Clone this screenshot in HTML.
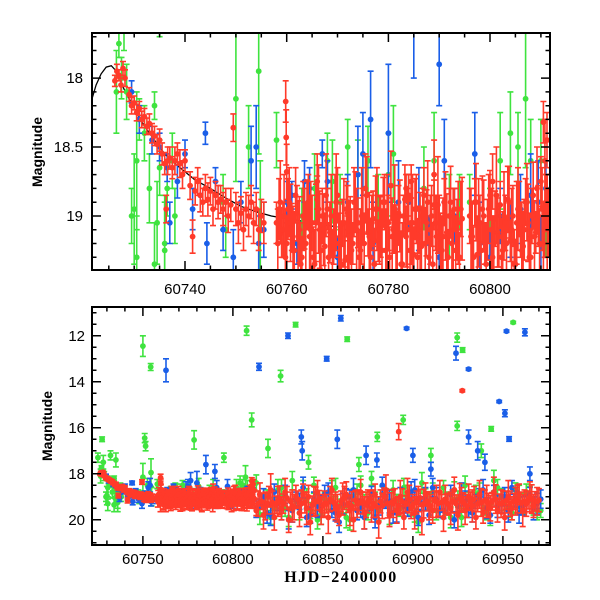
<!DOCTYPE html>
<html><head><meta charset="utf-8"><style>
html,body{margin:0;padding:0;background:#fff;}
svg{display:block;}
text{font-family:"Liberation Sans",Arial,sans-serif;fill:#000;}
</style></head><body>
<svg id="chart" width="600" height="600" viewBox="0 0 600 600" xmlns="http://www.w3.org/2000/svg">
<defs>
<clipPath id="clipTop"><rect x="92" y="33" width="458" height="237"/></clipPath>
<clipPath id="clipBot"><rect x="92" y="307" width="458" height="238"/></clipPath>
</defs>
<g id="top"></g>
<g id="bot"></g>
<text x="42" y="152" transform="rotate(-90 42 152)" text-anchor="middle" font-size="14" font-weight="bold">Magnitude</text>
<text x="52" y="426" transform="rotate(-90 52 426)" text-anchor="middle" font-size="14" font-weight="bold">Magnitude</text>
<text x="341" y="582" text-anchor="middle" font-size="16" font-weight="bold" style="font-family:'Liberation Serif',serif;letter-spacing:1.5px">HJD−2400000</text>
</svg>
<script>
// times are HJD-2460700
const curveT=[21.7,22.5,23.5,24.5,25.5,26.5,28,30,32,34,36,38,40,42,45,48,51,54,57,60,65,70];
const curveM=[18.15,18.05,17.97,17.92,17.91,17.95,18.08,18.22,18.35,18.45,18.55,18.62,18.68,18.74,18.8,18.87,18.93,18.97,19.0,19.02,19.05,19.08];

const redT=[26.2,26.6,27,27.4,27.8,28.2,29,29.5,30,30.5,31,31.5,32,32.5,33,33.5,34,34.5,35,35.5,36,36.3,36.6,37,37.5,38,38.5,39,39.5,40,
41,41.5,42,42.5,43,43.5,44,44.5,45,45.5,46,46.5,47,47.5,48,48.5,49,49.5,50,50.5,51,51.5,52,52.5,53,53.5,54,54.5,55,55.5,59.8,59.9,60.0,
58,58.5,59,59.5,60,60.5,61,61.5,62,62.5,63,63.5,64,64.5,65,65.5,66,66.5,67,67.5,68,68.5,69,69.5,70,70.5,71,71.5,72,72.5,73,73.5,74,74.5,75,75.5,76,76.5,77,77.5,78,78.5,79,79.5,80,80.5,81,81.5,82,82.5,83,83.5,84,84.5,85,85.5,86,86.5,87,87.5,88,88.5,89,89.5,90,90.5,91,91.5,92,92.5,93,93.5,94,94.5,
96,96.5,97,97.5,98,98.5,99,99.5,100,100.5,101,101.5,102,102.5,103,103.5,104,104.5,105,105.5,106,106.5,107,107.5,108,108.5,109,109.5,110,110.5,111,111.5,
66,83.5,84,84.5,72,110.5,110.8,111.2,89,100.5,
112,114,116,118,120,122,124,126,128,130,132,134,136,138,140,142,144,146,148,150,152,154,156,158,160,162,164,166,168,170,172,174,176,178,180,182,184,186,188,190,192,194,196,198,200,202,204,206,208,210,212,214,216,218,220,222,224,226,228,230,232,234,236,238,240,242,244,246,248,250,252,254,256,258,260,262,264,266,268,270,
227.4,192.1];
const redMag=[18.02,17.95,17.98,18.05,17.93,18.0,18.12,18.2,18.18,18.25,18.22,18.3,18.28,18.35,18.33,18.4,18.42,18.48,18.45,18.55,18.62,18.95,18.6,18.58,18.65,18.6,18.55,18.62,18.7,18.6,
18.78,19.15,18.82,18.75,18.85,18.9,18.8,18.88,18.82,18.95,18.85,18.9,18.88,18.95,18.9,19.0,18.92,18.36,18.95,19.05,18.98,19.1,18.95,19.0,18.9,19.05,18.95,19.1,19.0,19.05,18.17,18.43,18.68,
19.05,18.95,19.12,19.0,19.2,18.9,19.08,19.25,18.98,19.1,19.3,19.02,18.92,19.15,19.05,19.35,18.88,19.1,19.0,19.22,18.95,19.12,19.28,19.0,18.85,19.15,19.05,19.32,18.98,19.1,19.2,18.9,19.05,19.25,19.0,18.8,19.12,19.3,19.02,18.95,19.18,19.08,18.9,19.25,19.05,18.78,19.1,19.2,18.98,19.35,19.0,19.15,18.88,19.05,19.28,18.95,19.1,19.22,18.85,19.05,19.3,19.0,18.92,19.15,19.05,19.25,18.9,19.12,19.0,19.2,18.95,19.1,19.3,19.02,
19.0,19.15,18.9,19.28,19.05,18.95,19.2,19.1,18.85,19.3,19.02,19.12,18.92,19.25,19.05,18.88,19.18,19.0,19.35,18.95,19.1,19.22,18.9,19.05,19.3,18.85,19.12,19.0,18.75,19.2,18.9,19.05,
18.75,18.8,18.85,18.75,19.3,18.32,18.6,18.45,18.7,18.75,
19.1,19.3,19.2,19.4,19.0,19.25,19.35,19.15,19.3,19.05,19.2,19.45,19.1,19.3,19.25,19.0,19.35,19.2,19.15,19.4,19.3,19.1,19.25,19.5,19.2,19.05,19.3,19.4,19.15,19.25,19.2,19.35,19.1,19.3,19.45,19.2,19.0,19.3,19.25,19.15,19.4,19.2,19.3,19.1,19.35,19.25,19.05,19.3,19.2,19.4,19.15,19.3,19.25,19.1,19.35,19.2,19.3,19.05,19.25,19.4,19.2,19.1,19.3,19.25,19.15,19.35,19.2,19.1,19.3,19.25,19.15,19.3,19.2,19.1,19.25,19.2,19.15,19.1,19.2,19.15,
14.39,16.17];
const redErr=[.04,.05,.04,.05,.05,.06,.05,.06,.05,.06,.05,.06,.06,.06,.07,.07,.07,.07,.08,.08,.08,.1,.1,.08,.08,.1,.08,.1,.1,.08,
.1,.12,.1,.1,.12,.1,.1,.12,.1,.12,.1,.12,.1,.12,.1,.12,.12,.1,.12,.15,.12,.15,.12,.15,.12,.15,.12,.15,.12,.15,.15,.2,.2,
.15,.22,.18,.3,.2,.25,.17,.28,.2,.24,.15,.22,.18,.3,.2,.25,.17,.28,.2,.24,.15,.22,.18,.3,.2,.25,.17,.28,.2,.24,.15,.22,.18,.3,.2,.25,.17,.28,.2,.24,.15,.22,.18,.3,.2,.25,.17,.28,.2,.24,.15,.22,.18,.3,.2,.25,.17,.28,.2,.24,.15,.22,.18,.3,.2,.25,.17,.28,.2,.24,.15,.22,.18,.3,
.2,.25,.17,.28,.2,.24,.15,.22,.18,.3,.2,.25,.17,.28,.2,.24,.15,.22,.18,.3,.2,.25,.17,.28,.2,.24,.15,.22,.18,.3,.2,.25,
.2,.1,.15,.12,.3,.15,.3,.2,.25,.2,
.4,.55,.35,.6,.45,.5,.38,.62,.42,.5,.4,.55,.35,.6,.45,.5,.38,.62,.42,.5,.4,.55,.35,.6,.45,.5,.38,.62,.42,.5,.4,.55,.35,.6,.45,.5,.38,.62,.42,.5,.4,.55,.35,.6,.45,.5,.38,.62,.42,.5,.4,.55,.35,.6,.45,.5,.38,.62,.42,.5,.4,.55,.35,.6,.45,.5,.38,.62,.42,.5,.4,.55,.35,.6,.45,.5,.38,.62,.42,.5,
.05,.35];

const redT2=[58.25,58.75,59.25,59.75,60.25,60.75,61.25,61.75,62.25,62.75,63.25,63.75,64.25,64.75,65.25,65.75,66.25,66.75,67.25,67.75,68.25,68.75,69.25,69.75,70.25,70.75,71.25,71.75,72.25,72.75,73.25,73.75,74.25,74.75,75.25,75.75,76.25,76.75,77.25,77.75,78.25,78.75,79.25,79.75,80.25,80.75,81.25,81.75,82.25,82.75,83.25,83.75,84.25,84.75,85.25,85.75,86.25,86.75,87.25,87.75,88.25,88.75,89.25,89.75,90.25,90.75,91.25,91.75,92.25,92.75,93.25,93.75,94.25,
96.25,96.75,97.25,97.75,98.25,98.75,99.25,99.75,100.25,100.75,101.25,101.75,102.25,102.75,103.25,103.75,104.25,104.75,105.25,105.75,106.25,106.75,107.25,107.75,108.25,108.75,109.25,109.75,110.25,110.75,111.25,
113,115,117,119,121,123,125,127,129,131,133,135,137,139,141,143,145,147,149,151,153,155,157,159,161,163,165,167,169,171,173,175,177,179,181,183,185,187,189,191,193,195,197,199,201,203,205,207,209,211,213,215,217,219,221,223,225,227,229,231,233,235,237,239,241,243,245,247,249,251,253,255,257,259,261,263,265,267,269];
const redMag2=[19.2,18.9,19.1,19.3,18.95,19.05,19.25,18.85,19.15,19.35,19.0,19.2,18.9,19.1,19.3,19.05,18.95,19.25,19.1,18.85,19.3,19.0,19.15,18.9,19.2,19.35,19.05,18.95,19.15,19.25,18.9,19.1,19.3,19.0,19.2,18.85,19.15,19.05,19.35,18.95,19.1,19.25,18.9,19.05,19.3,19.15,18.95,19.2,19.0,19.35,18.88,19.1,19.25,19.05,18.95,19.3,19.15,19.0,19.2,18.9,19.1,19.35,19.05,18.92,19.2,19.15,19.0,19.3,18.9,19.1,19.25,19.05,18.95,
19.15,19.3,18.9,19.05,19.25,19.0,19.35,18.95,19.1,19.2,18.85,19.15,19.3,19.0,19.2,18.9,19.1,19.35,19.05,18.95,19.25,19.1,18.9,19.3,19.0,19.15,18.8,19.2,18.95,19.1,19.05,
19.6,18.9,19.8,19.3,18.7,19.9,19.2,19.5,18.8,20.0,19.4,19.0,19.7,18.9,19.5,20.1,19.2,18.8,19.6,19.3,19.9,18.7,19.4,19.8,19.1,18.9,19.6,20.0,19.3,18.8,19.7,19.2,19.5,18.9,20.1,19.4,18.7,19.8,19.3,19.6,19.0,19.9,18.8,19.5,19.7,19.1,20.0,18.9,19.4,19.6,19.2,18.8,19.9,19.3,19.5,18.7,19.8,19.1,19.6,19.0,19.4,19.9,18.9,19.7,19.2,19.5,18.8,19.6,19.3,19.9,19.0,19.5,19.2,18.9,19.6,19.3,19.0,19.4,19.2];
const redErr2=[.25,.3,.2,.35,.22,.28,.32,.2,.26,.3,.25,.3,.2,.35,.22,.28,.32,.2,.26,.3,.25,.3,.2,.35,.22,.28,.32,.2,.26,.3,.25,.3,.2,.35,.22,.28,.32,.2,.26,.3,.25,.3,.2,.35,.22,.28,.32,.2,.26,.3,.25,.3,.2,.35,.22,.28,.32,.2,.26,.3,.25,.3,.2,.35,.22,.28,.32,.2,.26,.3,.25,.3,.2,
.35,.22,.28,.32,.2,.26,.3,.25,.3,.2,.35,.22,.28,.32,.2,.26,.3,.25,.3,.2,.35,.22,.28,.32,.2,.26,.3,.25,.3,.2,.35,.22,
.5,.6,.45,.7,.55,.65,.5,.6,.55,.7,.5,.6,.45,.7,.55,.65,.5,.6,.55,.7,.5,.6,.45,.7,.55,.65,.5,.6,.55,.7,.5,.6,.45,.7,.55,.65,.5,.6,.55,.7,.5,.6,.45,.7,.55,.65,.5,.6,.55,.7,.5,.6,.45,.7,.55,.65,.5,.6,.55,.7,.5,.6,.45,.7,.55,.65,.5,.6,.55,.7,.5,.6,.45,.7,.55,.65,.5,.6,.55];

const blueT=[29.5,31,33.5,35,36.5,37,38.5,40,41.5,43,44,44.3,46,47.5,49.5,51,53,54,54.5,55.5,60,61,62,63.5,64.5,67,68,70,72,74,75,76.5,77,80,82,84,86,88,90,91,93,97,98,100,102,104,106,108,109.5,110,111,
62.8,114.5,130.6,159.9,152.1,196.5,223.9,230.9,247.9,251.1,253.4,252,262.2,230.9,138,138.5,158,174,85,90,210,236,240,265,180,200,
113,117,121,125,129,133,137,141,145,149,153,157,161,165,169,173,177,181,185,189,193,197,201,205,209,213,217,221,225,229,233,237,241,245,249,253,257,261,265,269,
115,119,123,127,131,135,139,143,147,151,155,159,163,167,171,175,179,183,187,191,195,199,203,207,211,215,219,223,227,231,235,239,243,247,251,255,259,263,267,271];
const blueMag=[18.1,18.3,18.45,18.5,18.65,19.05,18.75,18.55,18.95,18.85,18.4,19.2,18.75,19.1,19.3,18.9,18.6,18.5,19.2,19.1,18.9,18.85,19.2,18.75,18.8,18.55,18.75,19.3,18.9,18.7,18.55,18.3,19.2,18.4,18.9,18.9,18.95,19.2,19.3,18.6,19.0,18.55,19.2,19.3,19.0,19.1,18.95,18.85,18.9,19.2,18.8,
13.5,13.35,12.0,11.24,13.0,11.68,12.76,13.45,14.86,15.37,16.49,11.8,11.85,16.4,16.4,17.0,16.5,17.2,17.6,17.9,17.8,17.0,17.5,18.0,17.4,17.2,
19.5,19.0,19.8,19.3,18.9,19.6,19.2,19.9,19.1,19.4,18.8,19.7,19.3,19.0,19.6,19.9,18.9,19.4,19.2,19.7,19.0,19.5,18.7,19.3,19.8,19.1,19.6,18.9,19.4,19.2,19.7,19.0,19.5,18.8,19.3,19.6,19.1,19.4,18.9,19.3,
19.2,19.7,18.8,19.5,20.0,19.1,18.6,19.8,19.4,18.9,19.6,20.1,19.0,18.7,19.5,19.3,19.9,18.5,19.2,19.7,19.4,18.8,19.9,19.1,18.6,19.6,19.3,20.0,18.9,19.5,19.2,18.7,19.8,19.4,19.0,18.6,19.7,19.3,19.5,19.1];
const blueErr=[.08,.1,.1,.1,.1,.15,.12,.1,.15,.12,.08,.15,.1,.15,.2,.15,.25,.3,.2,.2,.15,.1,.15,.15,.15,.1,.15,.15,.2,.35,.3,.35,.3,.5,.3,.2,.3,.2,.2,.3,.2,.3,.3,.2,.2,.2,.25,.3,.3,.2,.2,
.5,.15,.12,.12,.1,.05,.3,.05,.05,.15,.1,.05,.15,.3,.3,.4,.4,.4,.4,.3,.3,.4,.35,.3,.3,.3,
.4,.35,.45,.3,.4,.5,.35,.4,.3,.45,.4,.35,.45,.3,.4,.5,.35,.4,.3,.45,.4,.35,.45,.3,.4,.5,.35,.4,.3,.45,.4,.35,.45,.3,.4,.5,.35,.4,.3,.45,
.3,.45,.35,.5,.4,.3,.45,.35,.5,.4,.3,.45,.35,.5,.4,.3,.45,.35,.5,.4,.3,.45,.35,.5,.4,.3,.45,.35,.5,.4,.3,.45,.35,.5,.4,.3,.45,.35,.5,.4];

const greenT=[26.5,27,27.5,28.5,29.5,30,30.5,31,32,33,34,34.5,35,36,36.5,37.5,38,47.5,48,50,52.5,54.5,54.8,58,63,65.5,68,69,70.5,72,74,76,78,80,81,84,87,89,92,94,96,100,102,104,105.5,107,108,110,111,30.5,34,36,
50,54.3,107.6,126.5,134.8,163.5,110.4,78.4,51,51.5,27.3,119.5,224.6,227.6,255.7,224.6,243.5,194.6,180.2,25,28,32,35,95,142,170,210,238,
115,119,123,127,131,135,139,143,147,151,155,159,163,167,171,175,179,183,187,191,195,199,203,207,211,215,219,223,227,231,235,239,243,247,251,255,259,263,267,271,
113,117,121,125,129,133,137,141,145,149,153,157,161,165,169,173,177,181,185,189,193,197,201,205,209,213,217,221,225,229,233,237,241,245,249,253,257,261,265,269];
const greenMag=[18.1,17.75,18.0,18.1,19.0,18.95,18.6,18.3,18.4,18.8,18.2,19.05,18.65,19.2,18.8,18.6,19.0,18.9,19.1,18.15,18.5,17.95,19.0,18.45,19.0,18.8,18.6,18.75,18.9,18.5,18.7,18.6,18.9,18.7,18.55,18.9,18.8,18.6,19.0,18.9,18.9,19.1,18.6,18.4,18.5,18.15,18.6,18.6,19.0,19.3,19.35,19.25,
12.45,13.36,11.78,13.75,11.52,12.15,15.66,16.53,16.45,16.8,16.5,16.9,12.08,12.62,11.42,15.92,16.05,15.66,16.4,17.3,17.5,17.2,17.4,17.3,17.5,17.6,17.2,17.0,
19.8,19.0,19.5,18.6,19.9,19.2,18.8,19.6,20.0,19.1,18.7,19.4,19.9,19.0,18.5,19.7,19.3,18.9,19.8,19.2,18.6,19.5,20.1,19.0,18.8,19.6,19.3,18.7,19.9,19.1,18.9,19.5,19.8,18.6,19.2,19.7,19.0,18.8,19.4,19.6,
18.4,19.3,19.9,18.7,19.5,18.3,19.7,19.1,18.5,19.8,19.2,18.6,19.4,20.0,18.8,19.3,18.2,19.6,19.0,18.7,19.5,18.9,19.8,18.4,19.2,19.6,18.6,19.9,19.1,18.5,19.4,18.8,19.7,18.3,19.0,19.5,18.7,19.3,18.9,19.6];
const greenErr=[.3,.1,.15,.2,.2,.4,.5,.15,.2,.25,.1,.3,.2,.3,.2,.2,.2,.2,.2,.6,.3,.6,.4,.2,.2,.25,.2,.3,.2,.2,.25,.25,.2,.3,.35,.2,.3,.35,.3,.2,.2,.3,.35,.3,.25,.5,.3,.3,.3,.3,.3,.4,
.45,.15,.2,.25,.1,.1,.3,.4,.2,.2,.1,.4,.2,.1,.05,.2,.1,.2,.2,.2,.3,.2,.3,.2,.3,.3,.3,.3,
.4,.3,.45,.35,.4,.3,.5,.35,.4,.3,.4,.3,.45,.35,.4,.3,.5,.35,.4,.3,.4,.3,.45,.35,.4,.3,.5,.35,.4,.3,.4,.3,.45,.35,.4,.3,.5,.35,.4,.3,
.35,.4,.3,.45,.35,.4,.3,.45,.35,.4,.35,.4,.3,.45,.35,.4,.3,.45,.35,.4,.35,.4,.3,.45,.35,.4,.3,.45,.35,.4,.35,.4,.3,.45,.35,.4,.3,.45,.35,.4];

const topXTicks=[60740,60760,60780,60800];
const topYTicks=["18","18.5","19"];
const botXTicks=[60750,60800,60850,60900,60950];
const botYTicks=["12","14","16","18","20"];

const NS="http://www.w3.org/2000/svg";
const T0=60700;
const L=92,R=550;
const xTop=t=>L+(t-21.7)*(458/90.1);
const yTop=m=>33+(m-17.673)*(237/1.719);
const xBot=t=>L+(t-21.7)*1.8;
const yBot=m=>307+(m-10.75)*23;

function mk(tag,attrs,parent){const e=document.createElementNS(NS,tag);for(const k in attrs)e.setAttribute(k,attrs[k]);parent.appendChild(e);return e;}

function drawSeries(parent,name,color,T,M,E,xf,yf,capW,rad){
  const sg=mk('g',{stroke:color,fill:color,'stroke-width':1.6},parent);
  
  
  T.forEach((t,i)=>{
    const x=xf(t),m=M[i],e=E[i];
    const y=yf(m),y1=yf(m-e),y2=yf(m+e);
    mk('path',{d:`M${x.toFixed(1)},${y1.toFixed(1)}V${y2.toFixed(1)}M${(x-capW).toFixed(1)},${y1.toFixed(1)}h${2*capW}M${(x-capW).toFixed(1)},${y2.toFixed(1)}h${2*capW}`,fill:'none'},sg);
    const p=mk('circle',{cx:x.toFixed(1),cy:y.toFixed(1),r:rad,stroke:'none'},sg);
    
    
  });
}

function panel(g,clip,xf,yf,top,xMin,xMax,xMaj,xMin2,yMinV,yMaxV,yMaj,yMin2,xLabs,yLabs,xLabY,yLabX,capW,rad){
  const data=mk('g',{'clip-path':'url(#'+clip+')'},g);
  
  
  if(top){
    let d='';curveT.forEach((t,i)=>{d+=(i?'L':'M')+xf(t).toFixed(1)+','+yf(curveM[i]).toFixed(1);});
    const c=mk('path',{d:d,fill:'none',stroke:'#000','stroke-width':1.3},data);
    
    
  }
  drawSeries(data,'green','#3fe33f',greenT,greenMag,greenErr,xf,yf,capW,rad);
  drawSeries(data,'blue','#1a5ee8',blueT,blueMag,blueErr,xf,yf,capW,rad);
  drawSeries(data,'red','#ff3a2a',redT,redMag,redErr,xf,yf,capW,rad);
  drawSeries(data,'red-extra','#ff3a2a',redT2,redMag2,redErr2,xf,yf,capW,rad);
  const fr=mk('rect',{x:L,y:top?33:307,width:R-L,height:top?237:238,fill:'none',stroke:'#000','stroke-width':2},g);
  
  
  const y0=top?33:307,y1=top?270:545;
  let d='';
  for(let v=Math.ceil((xMin)/xMin2)*xMin2;v<=xMax;v+=xMin2){
    const x=xf(v-T0);if(x<=L||x>=R)continue;
    const len=(Math.abs(v%xMaj)<1e-6)?9:4.5;
    d+=`M${x.toFixed(1)},${y1}v${-len}M${x.toFixed(1)},${y0}v${len}`;
  }
  for(let v=Math.ceil(yMinV/yMin2-1e-6)*yMin2;v<=yMaxV;v+=yMin2){
    const y=yf(v);if(y<=y0||y>=y1)continue;
    const r=Math.abs(v/yMaj-Math.round(v/yMaj))<1e-6;
    const len=r?9:4.5;
    d+=`M${L},${y.toFixed(1)}h${len}M${R},${y.toFixed(1)}h${-len}`;
  }
  const tk=mk('path',{d:d,stroke:'#000','stroke-width':1.5,fill:'none'},g);
  
  
  xLabs.forEach(v=>{
    const t=mk('text',{x:xf(v-T0).toFixed(1),y:xLabY,'text-anchor':'middle','font-size':15},g);
    t.textContent=String(v);
    
    
  });
  yLabs.forEach(v=>{
    const t=mk('text',{x:yLabX,y:(yf(parseFloat(v))+5).toFixed(1),'text-anchor':'end','font-size':15},g);
    t.textContent=v;
    
    
  });
}
panel(document.getElementById('top'),'clipTop',xTop,yTop,true,60721.7,60811.8,20,5,17.6,19.4,0.5,0.1,topXTicks,topYTicks,294,83,3,2.9);
panel(document.getElementById('bot'),'clipBot',xBot,yBot,false,60721.7,60976,50,10,10.5,21.1,2,0.5,botXTicks,botYTicks,564,85,3,2.9);
</script>
</body></html>
